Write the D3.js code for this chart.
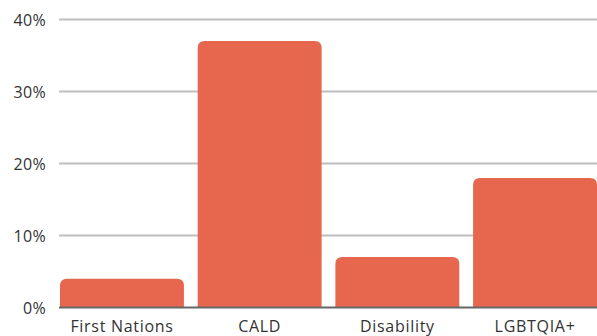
<!DOCTYPE html>
<html>
<head>
<meta charset="utf-8">
<script src="https://cdn.jsdelivr.net/npm/d3@7"></script>
<style>
  html, body { margin: 0; padding: 0; background: #fff; }
  svg { display: block; }
  text { font-family: "Open Sans", sans-serif; fill: #333; }
</style>
</head>
<body>
<svg id="chart" width="597" height="336"></svg>
<script>
// Share of each group, in percent
const categories = ["First Nations", "CALD", "Disability", "LGBTQIA+"];
const values = [4, 37, 7, 18];
const yTicks = [0, 10, 20, 30, 40];

const width = 597, height = 336;
const margin = { top: 19.5, right: 0, bottom: 28.5, left: 60 };

const svg = d3.select("#chart");

const x = d3.scaleBand()
  .domain(categories)
  .range([margin.left, width - margin.right])
  .paddingInner(0.1)
  .paddingOuter(0);

const y = d3.scaleLinear()
  .domain([0, 40])
  .range([height - margin.bottom, margin.top]);

// Horizontal gridlines
svg.append("g")
  .selectAll("line")
  .data(yTicks.filter(d => d > 0))
  .join("line")
  .attr("x1", margin.left - 1)
  .attr("x2", width)
  .attr("y1", d => y(d))
  .attr("y2", d => y(d))
  .attr("stroke", "#bdbdbd")
  .attr("stroke-width", 2);

// Bars with rounded top corners
const r = 7;
function topRounded(x0, y0, w, h) {
  const rr = Math.min(r, h, w / 2);
  return `M${x0},${y0 + h}V${y0 + rr}Q${x0},${y0} ${x0 + rr},${y0}` +
         `H${x0 + w - rr}Q${x0 + w},${y0} ${x0 + w},${y0 + rr}V${y0 + h}Z`;
}

svg.append("g")
  .selectAll("path")
  .data(categories.map((c, i) => ({ c, v: values[i] })))
  .join("path")
  .attr("d", d => topRounded(x(d.c), y(d.v), x.bandwidth(), y(0) - y(d.v)))
  .attr("fill", "#e6664e");

// Baseline
svg.append("line")
  .attr("x1", margin.left - 1)
  .attr("x2", width)
  .attr("y1", y(0))
  .attr("y2", y(0))
  .attr("stroke", "#666")
  .attr("stroke-width", 2);

// Y axis labels
const yAxis = d3.axisLeft(y)
  .tickValues(yTicks)
  .tickFormat(d => d + "%")
  .tickSize(0)
  .tickPadding(0);

const ya = svg.append("g")
  .attr("transform", `translate(${46},0)`)
  .call(yAxis);
ya.select(".domain").remove();
ya.selectAll("text")
  .attr("font-size", 16)
  .attr("font-family", "'Open Sans', sans-serif")
  .attr("fill", "#333")
  .attr("letter-spacing", "0.3px")
  .attr("dy", "0.36em");

// X axis labels
const xAxis = d3.axisBottom(x).tickSize(0).tickPadding(0);
const xa = svg.append("g")
  .attr("transform", `translate(0,${y(0)})`)
  .call(xAxis);
xa.select(".domain").remove();
xa.selectAll("text")
  .attr("font-size", 16)
  .attr("font-family", "'Open Sans', sans-serif")
  .attr("fill", "#333")
  .attr("letter-spacing", "0.7px")
  .attr("dy", null)
  .attr("y", 24);
</script>
</body>
</html>
